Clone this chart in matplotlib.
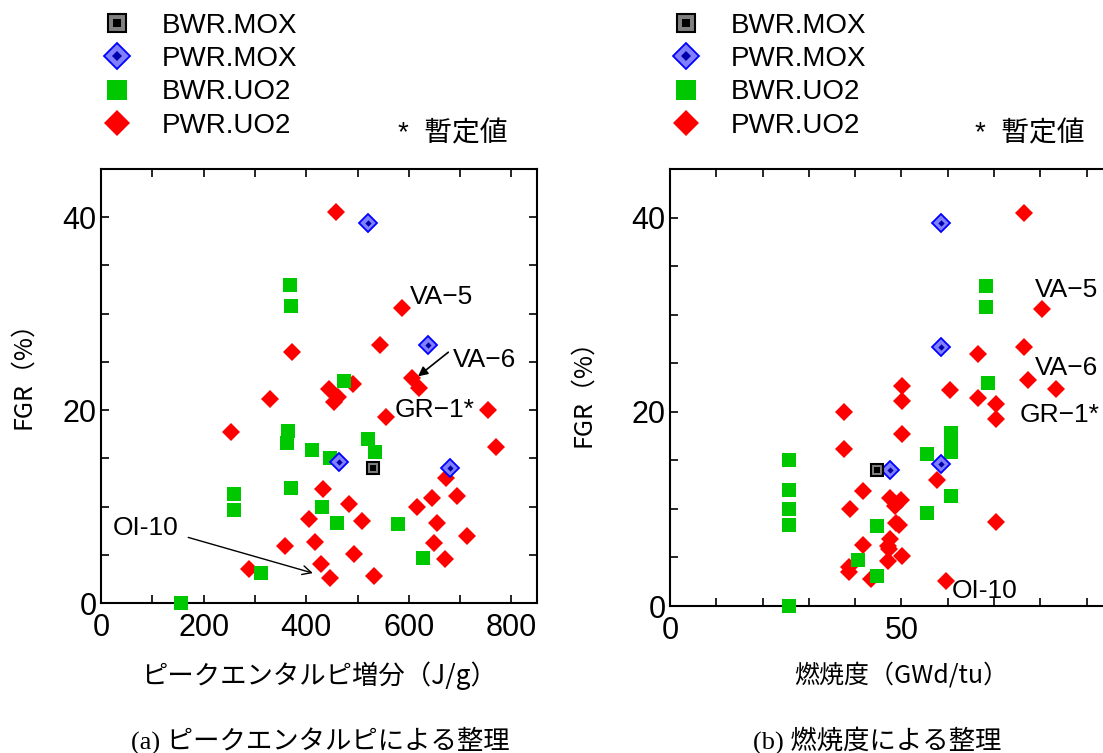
import matplotlib
matplotlib.use("Agg")
import matplotlib.pyplot as plt
from matplotlib.lines import Line2D

# FGR data
pwr_uo2_fgr = [40.5, 30.6, 26.7, 26.0, 23.3, 22.3, 22.7, 22.2, 21.4, 20.8, 21.1, 19.3,
               20.0, 16.2, 17.7, 13.0, 11.1, 10.9, 10.0, 11.8, 10.3, 8.7, 8.5, 8.3,
               6.9, 5.9, 6.3, 6.2, 5.1, 4.6, 4.0, 3.5, 2.6, 2.8]
pwr_uo2_enth = [458, 586, 543, 372, 606, 620, 491, 445, 461, 455, 329, 555,
                754, 769, 253, 673, 694, 646, 615, 433, 483, 406, 508, 654,
                714, 358, 417, 649, 493, 671, 428, 289, 447, 532]
pwr_uo2_bu = [76.5, 80.4, 76.5, 66.5, 77.4, 83.4, 50.1, 60.5, 66.5, 70.4, 50.1, 70.4,
              37.6, 37.6, 50.1, 57.6, 47.5, 49.8, 38.8, 41.7, 48.6, 70.4, 48.9, 49.5,
              47.6, 47.3, 41.7, 47.0, 50.1, 47.0, 38.6, 38.6, 59.7, 43.5]

bwr_uo2_fgr = [33.0, 30.8, 23.0, 17.8, 16.6, 17.0, 15.7, 15.9, 15.0, 11.9, 11.3, 9.6,
               10.0, 8.3, 8.2, 4.7, 3.1, 0.0]
bwr_uo2_enth = [368, 370, 473, 364, 362, 521, 534, 412, 447, 370, 260, 260,
                430, 460, 578, 627, 311, 155]
bwr_uo2_bu = [68.2, 68.2, 68.6, 60.6, 60.6, 60.6, 55.6, 60.6, 25.8, 25.8, 60.6, 55.6,
              25.8, 25.8, 44.7, 40.7, 44.7, 25.8]

pwr_mox_fgr = [39.4, 26.7, 14.6, 14.0]
pwr_mox_enth = [521, 637, 464, 680]
pwr_mox_bu = [58.6, 58.6, 58.6, 47.6]

bwr_mox_fgr = [14.0]
bwr_mox_enth = [530]
bwr_mox_bu = [44.7]

legend_labels = ["BWR.MOX", "PWR.MOX", "BWR.UO2", "PWR.UO2"]

red = "#ff0000"
green = "#00c800"
blue = "#0000ff"
lightBlue = "#7f7fff"
gray = "#808080"

cjk = "Noto Sans CJK JP"
latin = "Liberation Sans"

# marker styles shared by plots and legend
redStyle = dict(marker="D", ms=8.9, color=red, mew=0)
greenStyle = dict(marker="s", ms=9.5, color=green, mew=0)
blueOuter = dict(marker="D", ms=9.0, mfc=lightBlue, mec=blue, mew=1.3)
blueInner = dict(marker="D", ms=3.2, color="#0000aa", mew=0)
blackOuter = dict(marker="s", ms=9.0, mfc=gray, mec="black", mew=1.5)
blackInner = dict(marker="s", ms=3.8, color="black", mew=0)

fig = plt.figure(figsize=(11.03, 7.53), dpi=100)
axL = fig.add_axes([0.0916, 0.1992, 0.3953, 0.5764])
axR = fig.add_axes([0.6074, 0.1952, 0.4198, 0.5804])


def drawPoints(ax, xr, xg, xb, xk):
    ax.plot(xr, pwr_uo2_fgr, ls="", zorder=3, **redStyle)
    ax.plot(xg, bwr_uo2_fgr, ls="", zorder=4, clip_on=False, **greenStyle)
    ax.plot(xb, pwr_mox_fgr, ls="", zorder=5, **blueOuter)
    ax.plot(xb, pwr_mox_fgr, ls="", zorder=6, **blueInner)
    ax.plot(xk, bwr_mox_fgr, ls="", zorder=5, **blackOuter)
    ax.plot(xk, bwr_mox_fgr, ls="", zorder=6, **blackInner)


def styleAxes(ax, xmax, xticks, xlabels):
    ax.set_xlim(0, xmax)
    ax.set_ylim(0, 45)
    ax.set_xticks(xticks)
    ax.set_xticklabels(xlabels)
    ax.set_yticks(range(0, 46, 5))
    ax.set_yticklabels(["0", "", "", "", "20", "", "", "", "40", ""])
    ax.tick_params(direction="in", top=True, right=True, length=6, width=1.2,
                   labelsize=22)
    ax.tick_params(axis="x", pad=7)
    ax.tick_params(axis="y", pad=3)
    for lab in ax.get_xticklabels() + ax.get_yticklabels():
        lab.set_family(latin)
    for s in ax.spines.values():
        s.set_linewidth(1.5)
    ax.set_ylabel("FGR（%）", family=cjk, fontsize=18)


drawPoints(axL, pwr_uo2_enth, bwr_uo2_enth, pwr_mox_enth, bwr_mox_enth)
styleAxes(axL, 850, range(0, 801, 100), ["0", "", "200", "", "400", "", "600", "", "800"])
axL.set_xlabel("ピークエンタルピ増分（J/g）", family=cjk, fontsize=19)
axL.xaxis.set_label_coords(0.5, -0.135)
axL.yaxis.set_label_coords(-0.15, 0.54)

drawPoints(axR, pwr_uo2_bu, bwr_uo2_bu, pwr_mox_bu, bwr_mox_bu)
# the 100 label falls outside the picture
styleAxes(axR, 100, range(0, 101, 10), ["0", "", "", "", "", "50", "", "", "", "", ""])
axR.set_xlabel("燃焼度（GWd/tu）", family=cjk, fontsize=18)
axR.xaxis.set_label_coords(0.5, -0.13)
axR.yaxis.set_label_coords(-0.16, 0.5)

# labels on the left chart
annFont = dict(family=latin, fontsize=19, ha="left", va="center")
axL.text(603, 31.7, "VA\u22125", **annFont)
axL.text(685, 25.2, "VA\u22126", **annFont)
axL.text(573, 20.0, "GR\u22121*", **annFont)
axL.text(23, 7.8, "OI-10", **annFont)
axL.annotate("", xy=(618, 23.5), xytext=(677, 26.0),
             arrowprops=dict(arrowstyle="-|>", color="black", lw=1.2,
                             mutation_scale=14, shrinkA=0, shrinkB=0))
axL.annotate("", xy=(413, 3.1), xytext=(170, 6.8),
             arrowprops=dict(arrowstyle="->", color="black", lw=1.0,
                             mutation_scale=16, shrinkA=0, shrinkB=0))

# labels on the right chart
axR.text(78.8, 32.5, "VA\u22125", **annFont)
axR.text(78.8, 24.5, "VA\u22126", **annFont)
axR.text(75.5, 19.7, "GR\u22121*", **annFont)
axR.text(60.9, 1.5, "OI-10", **annFont)

# legends (markers drawn larger than in the plots)
for ax, x0 in [(axL, 103 / 1103), (axR, 672 / 1103)]:
    handles = [
        (Line2D([], [], ls="", **blackOuter), Line2D([], [], ls="", **blackInner)),
        (Line2D([], [], ls="", **blueOuter), Line2D([], [], ls="", **blueInner)),
        Line2D([], [], ls="", **greenStyle),
        Line2D([], [], ls="", **redStyle),
    ]
    ax.legend(handles, legend_labels, loc="upper left",
              bbox_to_anchor=(x0, 1 - 13 / 753), bbox_transform=fig.transFigure,
              frameon=False, prop=dict(family=latin, size=20), handlelength=1.0,
              handletextpad=1.1, labelspacing=0.26, borderpad=0, borderaxespad=0,
              markerscale=1.5)

noteFont = dict(family=[latin, cjk], fontsize=20, ha="left", va="center")
fig.text(398 / 1103, 1 - 134 / 753, "*  暫定値", **noteFont)
fig.text(975 / 1103, 1 - 134 / 753, "*  暫定値", **noteFont)

capFont = dict(family=["Liberation Serif", cjk], fontsize=19, ha="center", va="center")
fig.text(320 / 1103, 1 - 740 / 753, "(a) ピークエンタルピによる整理", **capFont)
fig.text(877 / 1103, 1 - 740 / 753, "(b) 燃焼度による整理", **capFont)

fig.savefig("out.png", dpi=100)
